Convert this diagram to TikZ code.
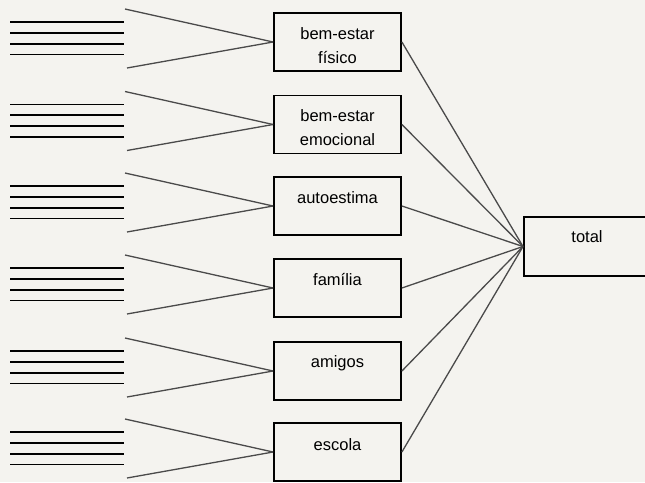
\documentclass[tikz,border=0pt]{standalone}
\usepackage{fontspec}
\setmainfont{Liberation Sans}
\definecolor{paper}{HTML}{F4F3EF}
\definecolor{fanline}{HTML}{4A4A4A}
\begin{document}
\begin{tikzpicture}[x=1pt,y=-1pt,
  box/.style={draw=black,line width=1.8pt,minimum width=127pt,minimum height=58pt,inner sep=0pt},
  lbl/.style={font=\fontsize{16.5}{24}\selectfont,align=center,inner sep=0pt},
  fan/.style={draw=fanline,line width=1.3pt},
  rule/.style={draw=black,line width=1.8pt}]
\fill[paper] (0,0) rectangle (645,482);
\useasboundingbox (0,0) rectangle (645,482);
% total box
\node[box,anchor=west,minimum width=160pt,minimum height=59pt] (tot) at (523,246.5) {};
\node[lbl] (tott) at (587,237) {total};
% criteria boxes
\foreach \n/\cy/\txt/\dy in {1/42/{bem-estar\\físico}/3.5,2/124.5/{bem-estar\\emocional}/3,3/206/autoestima/-8,4/288/família/-8,5/371/amigos/-8,6/452/escola/-7}{
  \node[box] (b\n) at (337.5,\cy) {};
  \node[lbl] (t\n) at ([yshift=-\dy pt]b\n.center) {\txt};
  \coordinate (u\n) at (125,\cy-33);
  \coordinate (l\n) at (127,\cy+26);
  \draw[fan] (u\n) -- (b\n.west);
  \draw[fan] (l\n) -- (b\n.west);
  \draw[fan] (b\n.east) -- (tot.west);
  \foreach \o in {-20,-9.2,1.6,12.4}{
    \draw[rule] (10,\cy+\o) -- (124,\cy+\o);
  }
}
\end{tikzpicture}
\end{document}
